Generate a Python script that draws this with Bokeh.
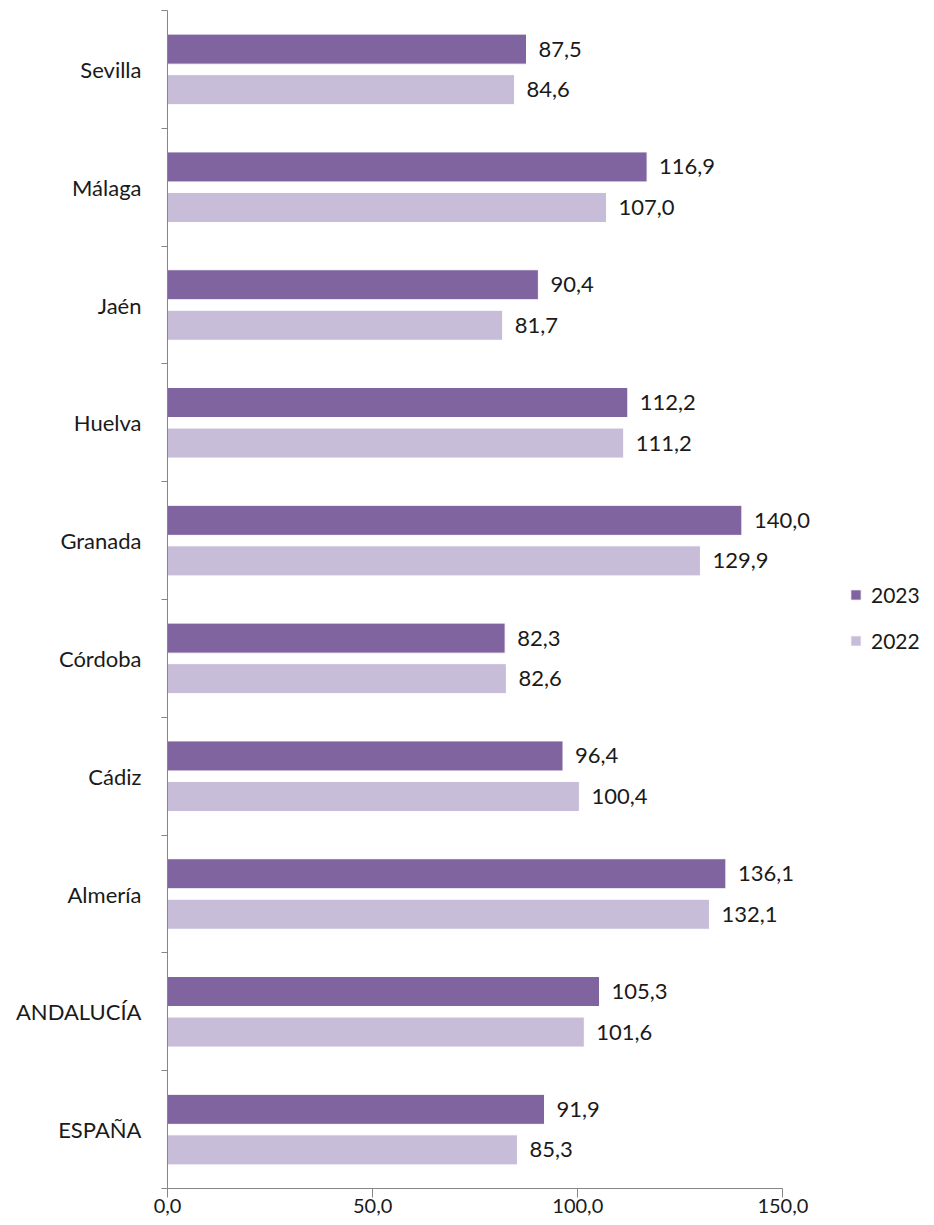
from bokeh.plotting import figure
from bokeh.models import (ColumnDataSource, Range1d, FixedTicker, LinearAxis,
                          LabelSet, Legend, LegendItem)
from bokeh.core.properties import value
from bokeh.embed import file_html
from bokeh.resources import INLINE

# ---- data (top to bottom as in the chart) ----
categories = ["Sevilla", "Málaga", "Jaén", "Huelva", "Granada", "Córdoba",
              "Cádiz", "Almería", "ANDALUCÍA", "ESPAÑA"]
values_2023 = [87.5, 116.9, 90.4, 112.2, 140.0, 82.3, 96.4, 136.1, 105.3, 91.9]
values_2022 = [84.6, 107.0, 81.7, 111.2, 129.9, 82.6, 100.4, 132.1, 101.6, 85.3]
series_names = ["2023", "2022"]
x_ticks = [0, 50, 100, 150]
x_tick_labels = ["0,0", "50,0", "100,0", "150,0"]

FONT = "Lato"
C23 = "#7F64A0"
C22 = "#C8BDD9"
AXIS = "#868686"

n = len(categories)
centers = [n - 0.5 - i for i in range(n)]
OFF = 0.172
H = 0.255
AXIS_MAX = 150
VIEW_MAX = 185   # frame extends past the axis so labels/legend are not clipped


def fmt(v):
    return f"{v:.1f}".replace(".", ",")


src23 = ColumnDataSource(dict(y=[c + OFF for c in centers], x=values_2023,
                              lab=[fmt(v) for v in values_2023]))
src22 = ColumnDataSource(dict(y=[c - OFF for c in centers], x=values_2022,
                              lab=[fmt(v) for v in values_2022]))

p = figure(width=926, height=1217, x_range=Range1d(0, VIEW_MAX), y_range=Range1d(0, n),
           output_backend="svg", toolbar_location=None,
           min_border_left=167, min_border_right=0, min_border_top=10,
           min_border_bottom=29, outline_line_color=None)
p.grid.visible = False
p.background_fill_color = "white"

r23 = p.hbar(y="y", right="x", left=0, height=H, source=src23,
             fill_color=C23, line_color="white", line_width=1)
r22 = p.hbar(y="y", right="x", left=0, height=H, source=src22,
             fill_color=C22, line_color="white", line_width=1)

for s in (src23, src22):
    p.add_layout(LabelSet(x="x", y="y", text="lab", source=s, x_offset=12,
                          text_font=value(FONT), text_font_size=value("22px"),
                          text_color="#1a1a1a", text_baseline="middle",
                          text_align="left"))

# x axis
xa = p.xaxis[0]
xa.bounds = (0, AXIS_MAX)
xa.ticker = FixedTicker(ticks=x_ticks)
xa.major_label_overrides = {t: l for t, l in zip(x_ticks, x_tick_labels)}
xa.axis_line_color = AXIS
xa.major_tick_line_color = AXIS
xa.major_tick_out = 9
xa.major_tick_in = 0
xa.minor_tick_line_color = None
xa.major_label_standoff = 1
xa.major_label_text_font = FONT
xa.major_label_text_font_size = "20px"
xa.major_label_text_color = "#1a1a1a"

# y axis with ticks at category boundaries
ya = p.yaxis[0]
ya.ticker = FixedTicker(ticks=list(range(n + 1)))
ya.major_label_overrides = {i: "" for i in range(n + 1)}
ya.major_label_standoff = 0
ya.axis_line_color = AXIS
ya.major_tick_line_color = AXIS
ya.major_tick_out = 6
ya.major_tick_in = 0
ya.minor_tick_line_color = None

# category labels axis
la = LinearAxis(ticker=FixedTicker(ticks=centers),
                major_label_overrides={c: name for c, name in zip(centers, categories)},
                axis_line_color=None, major_tick_line_color=None,
                minor_tick_line_color=None, major_label_standoff=14,
                major_label_text_font=FONT, major_label_text_font_size="22px",
                major_label_text_color="#1a1a1a")
p.add_layout(la, "left")

legend = Legend(items=[LegendItem(label=series_names[0], renderers=[r23]),
                       LegendItem(label=series_names[1], renderers=[r22])],
                location=(682, 535), orientation="vertical",
                glyph_width=13, glyph_height=13, label_height=24,
                label_standoff=9, spacing=21, padding=0, margin=0,
                border_line_color=None, background_fill_alpha=0,
                label_text_font=FONT, label_text_font_size="21px",
                label_text_color="#1a1a1a")
p.add_layout(legend, "center")

open("out.html", "w").write(file_html(p, INLINE))
